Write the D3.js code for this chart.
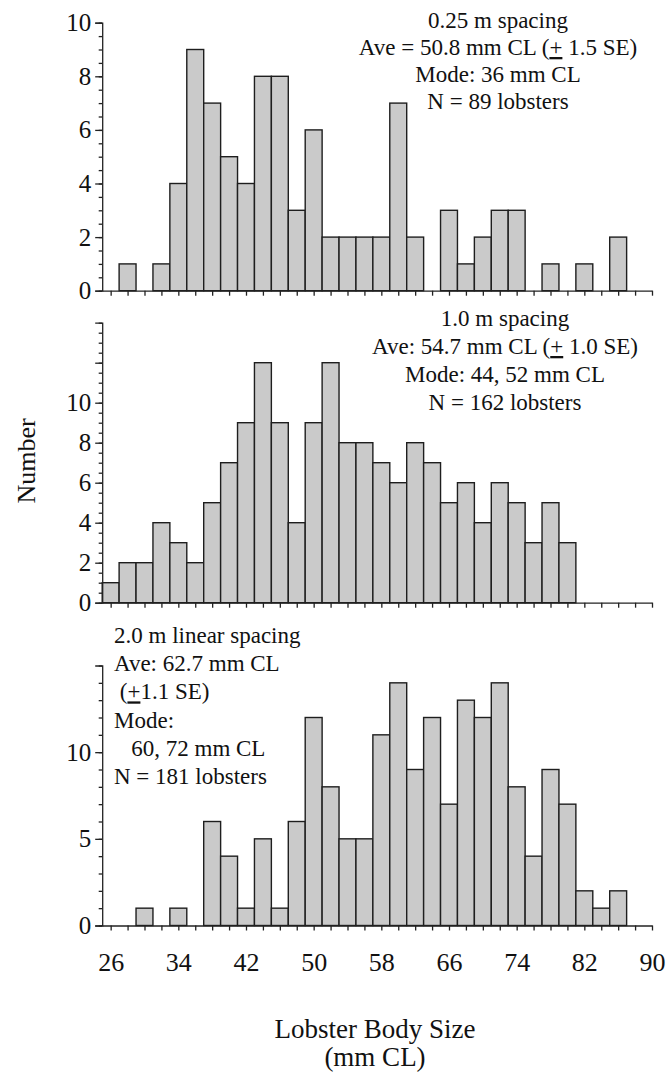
<!DOCTYPE html>
<html>
<head>
<meta charset="utf-8">
<script src="https://cdn.jsdelivr.net/npm/d3@7"></script>
<style>
  body { margin: 0; background: #fff; }
  svg text { font-family: "Liberation Serif", "Times New Roman", Times, serif; fill: #111; }
  .axis path, .axis line { stroke: #222; stroke-width: 1.3; }
</style>
</head>
<body>
<svg id="chart" width="667" height="1073"></svg>
<script>
// size classes (bin centres, mm CL) and counts, 2 mm bins
var topSizes = [28, 32, 34, 36, 38, 40, 42, 44, 46, 48, 50, 52, 54, 56, 58, 60, 62, 66, 68, 70, 72, 74, 78, 82, 86];
var topCounts = [1, 1, 4, 9, 7, 5, 4, 8, 8, 3, 6, 2, 2, 2, 2, 7, 2, 3, 1, 2, 3, 3, 1, 1, 2];

var midSizes = [26, 28, 30, 32, 34, 36, 38, 40, 42, 44, 46, 48, 50, 52, 54, 56, 58, 60, 62, 64, 66, 68, 70, 72, 74, 76, 78, 80];
var midCounts = [1, 2, 2, 4, 3, 2, 5, 7, 9, 12, 9, 4, 9, 12, 8, 8, 7, 6, 8, 7, 5, 6, 4, 6, 5, 3, 5, 3];

var botSizes = [30, 34, 38, 40, 42, 44, 46, 48, 50, 52, 54, 56, 58, 60, 62, 64, 66, 68, 70, 72, 74, 76, 78, 80, 82, 84, 86];
var botCounts = [1, 1, 6, 4, 1, 5, 1, 6, 12, 8, 5, 5, 11, 14, 9, 12, 7, 13, 12, 14, 8, 4, 9, 7, 2, 1, 2];

var xTickLabels = [26, 34, 42, 50, 58, 66, 74, 82, 90];

var topNotes = ["0.25 m spacing", "Ave = 50.8 mm CL (|+| 1.5 SE)", "Mode: 36 mm CL", "N = 89 lobsters"];
var midNotes = ["1.0 m spacing", "Ave: 54.7 mm CL (|+| 1.0 SE)", "Mode: 44, 52 mm CL", "N = 162 lobsters"];
var botNotes = ["2.0 m linear spacing", "Ave: 62.7 mm CL", " (|+|1.1 SE)", "Mode:", "   60, 72 mm CL", "N = 181 lobsters"];

var binWidth = 2;
var serif = "'Liberation Serif', 'Times New Roman', Times, serif";

var svg = d3.select("#chart");

var x = d3.scaleLinear().domain([25, 90]).range([102.2, 652]);

var panels = [
  { sizes: topSizes, counts: topCounts, domain: [0, 10], range: [290.7, 22.7],
    major: [0, 2, 4, 6, 8, 10], labels: [0, 2, 4, 6, 8, 10], minor: 0.5 },
  { sizes: midSizes, counts: midCounts, domain: [0, 14], range: [602.7, 322.7],
    major: [0, 2, 4, 6, 8, 10, 12], labels: [0, 2, 4, 6, 8, 10], minor: 0.5 },
  { sizes: botSizes, counts: botCounts, domain: [0, 15], range: [925.5, 665.5],
    major: [0, 5, 10], labels: [0, 5, 10], minor: 1 }
];

panels.forEach(function (p, i) {
  var y = d3.scaleLinear().domain(p.domain).range(p.range);
  var g = svg.append("g");
  var data = p.sizes.map(function (s, k) { return { size: s, n: p.counts[k] }; });

  g.selectAll("rect").data(data).enter().append("rect")
    .attr("x", function (d) { return x(d.size - binWidth / 2); })
    .attr("width", function (d) { return x(d.size + binWidth / 2) - x(d.size - binWidth / 2); })
    .attr("y", function (d) { return y(d.n); })
    .attr("height", function (d) { return y(0) - y(d.n); })
    .attr("fill", "#cacaca")
    .attr("stroke", "#1e1e1e")
    .attr("stroke-width", 1.4);

  // x axis, a tick every 2 mm
  g.append("g").attr("class", "axis")
    .attr("transform", "translate(0," + y(0) + ")")
    .call(d3.axisBottom(x).tickValues(d3.range(26, 91, 2)).tickSize(5).tickSizeOuter(0).tickFormat(""));

  // y axis minor ticks
  var minorVals = d3.range(p.domain[0], p.domain[1] + 0.001, p.minor);
  g.append("g").attr("class", "axis")
    .attr("transform", "translate(" + x(25) + ",0)")
    .call(d3.axisLeft(y).tickValues(minorVals).tickSize(3.5).tickSizeOuter(0).tickFormat(""))
    .select(".domain").remove();

  // y axis major ticks + labels
  var yAxisG = g.append("g").attr("class", "axis")
    .attr("transform", "translate(" + x(25) + ",0)")
    .call(d3.axisLeft(y).tickValues(p.major).tickSize(7).tickSizeOuter(7).tickPadding(4)
      .tickFormat(function (d) { return p.labels.indexOf(d) >= 0 ? d : ""; }));
  yAxisG.attr("font-family", serif).attr("font-size", 25);
  yAxisG.selectAll("text").style("font-family", serif).style("font-size", "25px");

  if (i === 2) {
    var lab = g.append("g").attr("class", "axis")
      .attr("transform", "translate(0," + y(0) + ")")
      .call(d3.axisBottom(x).tickValues(xTickLabels).tickSize(0).tickPadding(27));
    lab.select(".domain").remove();
    lab.attr("font-family", serif).attr("font-size", 26);
    lab.selectAll("text").style("font-family", serif).style("font-size", "26px");
  }
});

// annotation text; |+| marks an underlined plus sign
function note(lines, xPos, y0, step, anchor) {
  var t = svg.append("text").attr("text-anchor", anchor)
    .style("font-family", serif).style("font-size", "23px");
  lines.forEach(function (line, k) {
    var parts = line.split("|");
    parts.forEach(function (part, j) {
      var ts = t.append("tspan").text(part);
      if (j === 0) ts.attr("x", xPos).attr("y", y0 + k * step);
      if (j % 2 === 1) ts.style("text-decoration", "underline");
    });
  });
  t.attr("xml:space", "preserve");
}

note(topNotes, 498, 28, 27, "middle");
note(midNotes, 505, 326, 28, "middle");
note(botNotes, 114, 643, 28.2, "start");

svg.append("text")
  .attr("transform", "translate(35,461) rotate(-90)")
  .attr("text-anchor", "middle")
  .style("font-family", serif)
  .style("font-size", "26px")
  .text("Number");

svg.append("text").attr("x", 375).attr("y", 1038).attr("text-anchor", "middle")
  .style("font-family", serif).style("font-size", "27px").text("Lobster Body Size");
svg.append("text").attr("x", 375).attr("y", 1066).attr("text-anchor", "middle")
  .style("font-family", serif).style("font-size", "27px").text("(mm CL)");
</script>
</body>
</html>
